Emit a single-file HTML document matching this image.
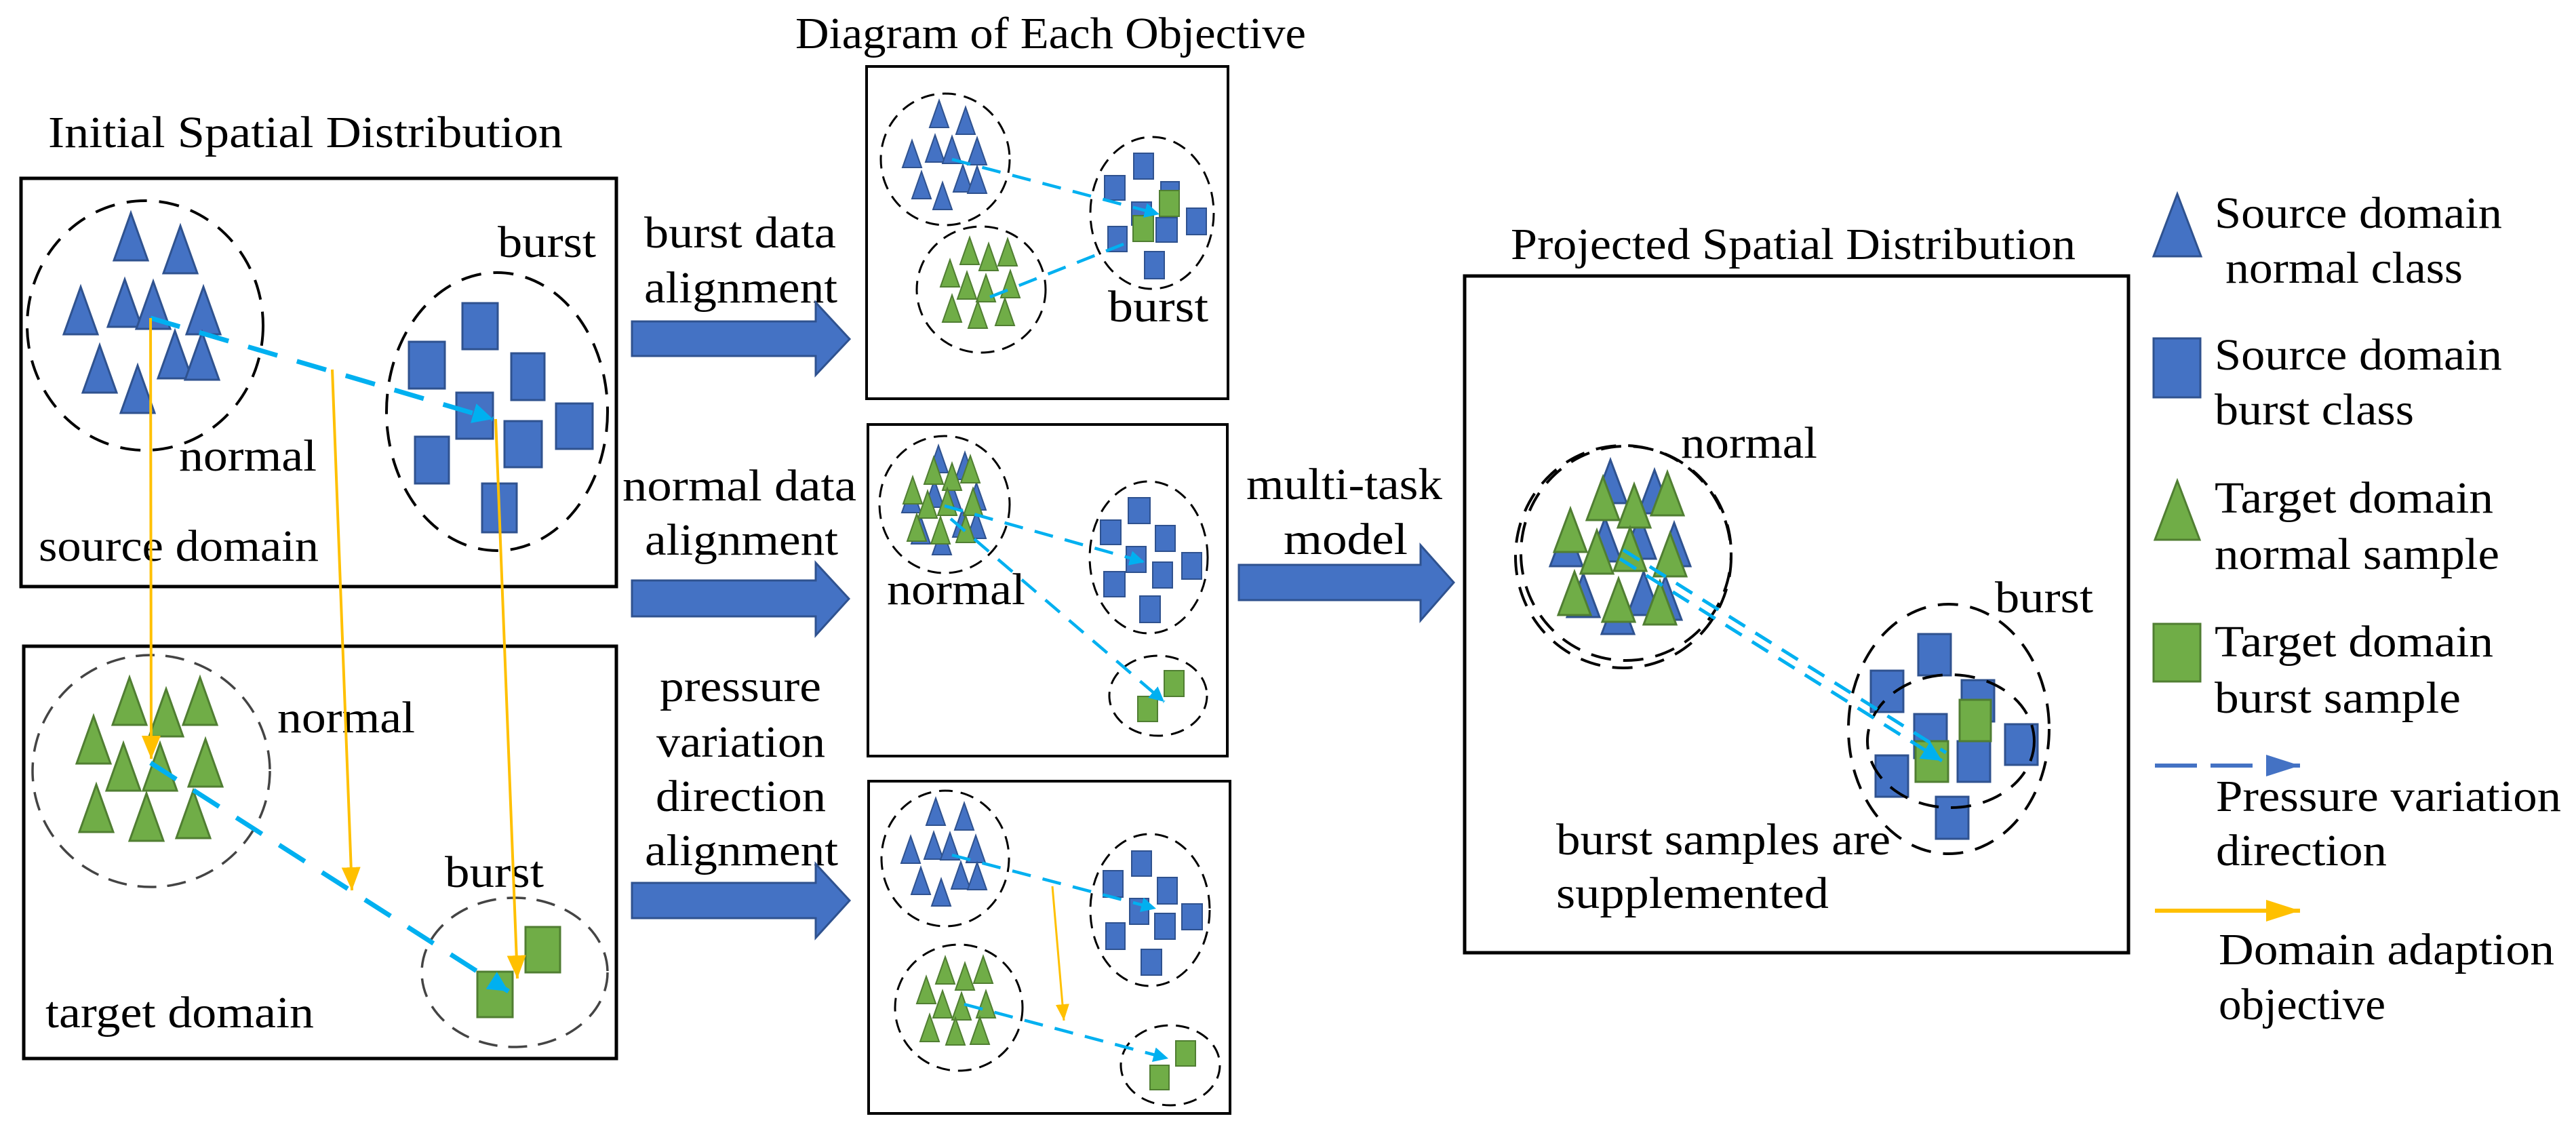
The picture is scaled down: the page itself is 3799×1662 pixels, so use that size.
<!DOCTYPE html>
<html><head><meta charset="utf-8"><style>
html,body{margin:0;padding:0;background:#fff;}
svg{display:block;font-family:"Liberation Serif","DejaVu Serif","Times New Roman",serif;}
svg text{font-family:"Liberation Serif","DejaVu Serif","Times New Roman",serif;font-size:66px;fill:#000;}
.b{fill:#4472C4;stroke:#2F528F;stroke-width:3;}
.g{fill:#70AD47;stroke:#507E32;stroke-width:3;}
.box{fill:none;stroke:#000;stroke-width:5;}
.el{fill:none;stroke:#000;stroke-width:4;stroke-dasharray:30 18;}
.elg{fill:none;stroke:#444;stroke-width:3.5;stroke-dasharray:28 16;}
.bl{stroke:#00B0F0;stroke-width:7;stroke-dasharray:45 30;fill:none;}
.bls{stroke:#00B0F0;stroke-width:4.5;stroke-dasharray:28 18;fill:none;}
.or{stroke:#FFC000;stroke-width:4;fill:none;}
.ba{fill:#4472C4;stroke:#2F528F;stroke-width:3;}
</style></head><body>
<svg width="3799" height="1662" viewBox="0 0 3799 1662" xmlns="http://www.w3.org/2000/svg" font-family="Liberation Serif, DejaVu Serif, serif">
<defs>
<path id="T1" d="M0,0 L25,70 L-25,70Z"/>
<path id="T2" d="M0,0 L14,40 L-14,40Z"/>
<path id="T3" d="M0,0 L24,64 L-24,64Z"/>
<marker id="mb" markerUnits="userSpaceOnUse" markerWidth="40" markerHeight="40" refX="30" refY="15" orient="auto"><path d="M0,0 L30,15 L0,30 Z" fill="#00B0F0"/></marker>
<marker id="mbs" markerUnits="userSpaceOnUse" markerWidth="30" markerHeight="30" refX="22" refY="11" orient="auto"><path d="M0,0 L22,11 L0,22 Z" fill="#00B0F0"/></marker>
<marker id="mo" markerUnits="userSpaceOnUse" markerWidth="40" markerHeight="40" refX="34" refY="14" orient="auto"><path d="M0,0 L34,14 L0,28 Z" fill="#FFC000"/></marker>
<marker id="mos" markerUnits="userSpaceOnUse" markerWidth="30" markerHeight="30" refX="24" refY="10" orient="auto"><path d="M0,0 L24,10 L0,20 Z" fill="#FFC000"/></marker>
<marker id="mlb" markerUnits="userSpaceOnUse" markerWidth="60" markerHeight="40" refX="50" refY="16" orient="auto"><path d="M0,0 L50,16 L0,32 Z" fill="#4472C4"/></marker>
<marker id="mlo" markerUnits="userSpaceOnUse" markerWidth="60" markerHeight="40" refX="50" refY="16" orient="auto"><path d="M0,0 L50,16 L0,32 Z" fill="#FFC000"/></marker>
</defs>

<text x="71" y="217" textLength="759" lengthAdjust="spacingAndGlyphs">Initial Spatial Distribution</text>
<text x="1173" y="71" textLength="753" lengthAdjust="spacingAndGlyphs">Diagram of Each Objective</text>
<text x="2228" y="382" textLength="833" lengthAdjust="spacingAndGlyphs">Projected Spatial Distribution</text>

<rect class="box" x="31" y="263" width="878" height="602"/>
<ellipse class="el" cx="214" cy="480" rx="174" ry="184"/>
<g class="b">
<use href="#T1" x="193" y="314"/><use href="#T1" x="266" y="333"/><use href="#T1" x="119" y="423"/>
<use href="#T1" x="184" y="412"/><use href="#T1" x="226" y="415"/><use href="#T1" x="300" y="423"/>
<use href="#T1" x="147" y="509"/><use href="#T1" x="258" y="488"/><use href="#T1" x="298" y="490"/>
<use href="#T1" x="203" y="539"/>
</g>
<ellipse class="el" cx="733" cy="607" rx="163" ry="205"/>
<g class="b">
<rect x="682" y="447" width="52" height="68"/><rect x="603" y="504" width="53" height="69"/>
<rect x="754" y="521" width="49" height="69"/><rect x="673" y="579" width="54" height="68"/>
<rect x="820" y="595" width="54" height="67"/><rect x="744" y="621" width="55" height="68"/>
<rect x="612" y="644" width="50" height="69"/><rect x="711" y="713" width="51" height="72"/>
</g>
<text x="734" y="379" textLength="145" lengthAdjust="spacingAndGlyphs">burst</text>
<text x="264" y="694" textLength="203" lengthAdjust="spacingAndGlyphs">normal</text>
<text x="57" y="827" textLength="413" lengthAdjust="spacingAndGlyphs">source domain</text>
<line class="bl" x1="222" y1="469" x2="727" y2="618" marker-end="url(#mb)"/>

<rect class="box" x="35" y="953" width="874" height="608"/>
<ellipse class="elg" cx="223" cy="1137" rx="175" ry="171"/>
<g class="g">
<use href="#T1" x="191" y="999"/><use href="#T1" x="245" y="1016"/><use href="#T1" x="295" y="999"/>
<use href="#T1" x="138" y="1056"/><use href="#T1" x="182" y="1096"/><use href="#T1" x="236" y="1096"/>
<use href="#T1" x="303" y="1090"/><use href="#T1" x="142" y="1157"/><use href="#T1" x="216" y="1170"/>
<use href="#T1" x="285" y="1166"/>
</g>
<ellipse class="elg" cx="759" cy="1434" rx="137" ry="110"/>
<g class="g">
<rect x="775" y="1367" width="51" height="67"/><rect x="704" y="1433" width="52" height="67"/>
</g>
<text x="409" y="1080" textLength="203" lengthAdjust="spacingAndGlyphs">normal</text>
<text x="656" y="1308" textLength="146" lengthAdjust="spacingAndGlyphs">burst</text>
<text x="67" y="1515" textLength="396" lengthAdjust="spacingAndGlyphs">target domain</text>
<line class="bl" x1="222" y1="1125" x2="750" y2="1462" marker-end="url(#mb)"/>

<line class="or" x1="222" y1="469" x2="223" y2="1119" marker-end="url(#mo)"/>
<line class="or" x1="490" y1="545" x2="519" y2="1313" marker-end="url(#mo)"/>
<line class="or" x1="731" y1="618" x2="763" y2="1443" marker-end="url(#mo)"/>

<text x="950" y="365" textLength="283" lengthAdjust="spacingAndGlyphs">burst data</text>
<text x="950" y="446" textLength="285" lengthAdjust="spacingAndGlyphs">alignment</text>
<text x="918" y="738" textLength="345" lengthAdjust="spacingAndGlyphs">normal data</text>
<text x="951" y="818" textLength="285" lengthAdjust="spacingAndGlyphs">alignment</text>
<text x="973" y="1034" textLength="238" lengthAdjust="spacingAndGlyphs">pressure</text>
<text x="968" y="1116" textLength="249" lengthAdjust="spacingAndGlyphs">variation</text>
<text x="967" y="1196" textLength="251" lengthAdjust="spacingAndGlyphs">direction</text>
<text x="951" y="1276" textLength="285" lengthAdjust="spacingAndGlyphs">alignment</text>
<text x="1838" y="736" textLength="289" lengthAdjust="spacingAndGlyphs">multi-task</text>
<text x="1893" y="817" textLength="183" lengthAdjust="spacingAndGlyphs">model</text>

<polygon class="ba" points="932,474 1203,474 1203,446 1253,500 1203,553 1203,525 932,525"/>
<polygon class="ba" points="932,856 1203,856 1203,830 1252,883 1203,937 1203,909 932,909"/>
<polygon class="ba" points="932,1302 1203,1302 1203,1274 1253,1328 1203,1383 1203,1354 932,1354"/>
<polygon class="ba" points="1827,833 2095,833 2095,804 2144,859 2095,915 2095,885 1827,885"/>

<rect class="box" x="1278" y="98" width="533" height="490" style="stroke-width:4"/>
<ellipse class="el" cx="1394" cy="235" rx="95" ry="97" style="stroke-width:3;stroke-dasharray:20 12"/>
<ellipse class="el" cx="1447" cy="427" rx="95" ry="93" style="stroke-width:3;stroke-dasharray:20 12"/>
<ellipse class="el" cx="1699" cy="314" rx="91" ry="112" style="stroke-width:3;stroke-dasharray:20 12"/>
<g class="b" style="stroke-width:2">
<use href="#T2" x="1385" y="148"/><use href="#T2" x="1424" y="158"/><use href="#T2" x="1345" y="207"/>
<use href="#T2" x="1379" y="199"/><use href="#T2" x="1404" y="201"/><use href="#T2" x="1441" y="203"/>
<use href="#T2" x="1359" y="253"/><use href="#T2" x="1420" y="243"/><use href="#T2" x="1441" y="245"/>
<use href="#T2" x="1390" y="269"/>
</g>
<g class="g" style="stroke-width:2">
<use href="#T2" x="1430" y="350"/><use href="#T2" x="1458" y="359"/><use href="#T2" x="1486" y="352"/>
<use href="#T2" x="1401" y="383"/><use href="#T2" x="1426" y="401"/><use href="#T2" x="1454" y="405"/>
<use href="#T2" x="1490" y="399"/><use href="#T2" x="1404" y="435"/><use href="#T2" x="1442" y="444"/>
<use href="#T2" x="1482" y="440"/>
</g>
<g class="b" style="stroke-width:2">
<rect x="1672" y="226" width="29" height="38"/><rect x="1629" y="259" width="30" height="36"/>
<rect x="1712" y="268" width="27" height="36"/><rect x="1669" y="298" width="29" height="34"/>
<rect x="1750" y="307" width="29" height="39"/><rect x="1705" y="321" width="31" height="36"/>
<rect x="1634" y="334" width="28" height="37"/><rect x="1688" y="371" width="29" height="40"/>
</g>
<g class="g" style="stroke-width:2">
<rect x="1710" y="281" width="29" height="38"/><rect x="1671" y="318" width="30" height="38"/>
</g>
<line class="bls" x1="1404" y1="235" x2="1710" y2="316" marker-end="url(#mbs)"/>
<line class="bls" x1="1460" y1="438" x2="1672" y2="354"/>
<text x="1634" y="474" textLength="148" lengthAdjust="spacingAndGlyphs">burst</text>

<rect class="box" x="1280" y="626" width="530" height="489" style="stroke-width:4"/>
<ellipse class="el" cx="1393" cy="744" rx="96" ry="101" style="stroke-width:3;stroke-dasharray:20 12"/>
<ellipse class="el" cx="1694" cy="822" rx="87" ry="112" style="stroke-width:3;stroke-dasharray:20 12"/>
<ellipse class="el" cx="1708" cy="1026" rx="72" ry="59" style="stroke-width:3;stroke-dasharray:20 12"/>
<g class="b" style="stroke-width:2">
<use href="#T2" x="1384" y="657"/><use href="#T2" x="1423" y="667"/><use href="#T2" x="1344" y="716"/>
<use href="#T2" x="1378" y="708"/><use href="#T2" x="1403" y="710"/><use href="#T2" x="1440" y="712"/>
<use href="#T2" x="1358" y="762"/><use href="#T2" x="1419" y="752"/><use href="#T2" x="1440" y="754"/>
<use href="#T2" x="1389" y="778"/>
</g>
<g class="g" style="stroke-width:2">
<use href="#T2" x="1377" y="674"/><use href="#T2" x="1404" y="683"/><use href="#T2" x="1431" y="672"/>
<use href="#T2" x="1346" y="703"/><use href="#T2" x="1368" y="724"/><use href="#T2" x="1397" y="720"/>
<use href="#T2" x="1435" y="720"/><use href="#T2" x="1352" y="758"/><use href="#T2" x="1387" y="762"/>
<use href="#T2" x="1424" y="760"/>
</g>
<g class="b" style="stroke-width:2">
<rect x="1664" y="734" width="32" height="38"/><rect x="1623" y="767" width="30" height="36"/>
<rect x="1704" y="775" width="29" height="38"/><rect x="1661" y="806" width="29" height="38"/>
<rect x="1743" y="815" width="29" height="39"/><rect x="1700" y="829" width="29" height="38"/>
<rect x="1628" y="843" width="31" height="37"/><rect x="1681" y="879" width="30" height="39"/>
</g>
<g class="g" style="stroke-width:2">
<rect x="1717" y="989" width="29" height="38"/><rect x="1678" y="1027" width="29" height="37"/>
</g>
<line class="bls" x1="1393" y1="746" x2="1688" y2="829" marker-end="url(#mbs)"/>
<line class="bls" x1="1402" y1="765" x2="1717" y2="1035" marker-end="url(#mbs)"/>
<text x="1308" y="891" textLength="204" lengthAdjust="spacingAndGlyphs">normal</text>

<rect class="box" x="1281" y="1152" width="533" height="490" style="stroke-width:4"/>
<ellipse class="el" cx="1394" cy="1266" rx="94" ry="100" style="stroke-width:3;stroke-dasharray:20 12"/>
<ellipse class="el" cx="1414" cy="1486" rx="94" ry="93" style="stroke-width:3;stroke-dasharray:20 12"/>
<ellipse class="el" cx="1696" cy="1342" rx="88" ry="112" style="stroke-width:3;stroke-dasharray:20 12"/>
<ellipse class="el" cx="1726" cy="1571" rx="73" ry="59" style="stroke-width:3;stroke-dasharray:20 12"/>
<g class="b" style="stroke-width:2">
<use href="#T2" x="1380" y="1177"/><use href="#T2" x="1422" y="1184"/><use href="#T2" x="1343" y="1233"/>
<use href="#T2" x="1377" y="1227"/><use href="#T2" x="1401" y="1228"/><use href="#T2" x="1439" y="1232"/>
<use href="#T2" x="1358" y="1279"/><use href="#T2" x="1417" y="1271"/><use href="#T2" x="1441" y="1272"/>
<use href="#T2" x="1388" y="1296"/>
</g>
<g class="g" style="stroke-width:2">
<use href="#T2" x="1394" y="1411"/><use href="#T2" x="1423" y="1420"/><use href="#T2" x="1450" y="1410"/>
<use href="#T2" x="1366" y="1440"/><use href="#T2" x="1390" y="1461"/><use href="#T2" x="1418" y="1464"/>
<use href="#T2" x="1454" y="1461"/><use href="#T2" x="1371" y="1496"/><use href="#T2" x="1409" y="1501"/>
<use href="#T2" x="1445" y="1500"/>
</g>
<g class="b" style="stroke-width:2">
<rect x="1669" y="1255" width="29" height="37"/><rect x="1627" y="1284" width="29" height="39"/>
<rect x="1707" y="1294" width="29" height="39"/><rect x="1666" y="1325" width="28" height="38"/>
<rect x="1743" y="1333" width="30" height="38"/><rect x="1703" y="1347" width="30" height="38"/>
<rect x="1631" y="1361" width="28" height="39"/><rect x="1683" y="1400" width="30" height="38"/>
</g>
<g class="g" style="stroke-width:2">
<rect x="1734" y="1535" width="29" height="37"/><rect x="1696" y="1571" width="28" height="36"/>
</g>
<line class="bls" x1="1404" y1="1261" x2="1705" y2="1340" marker-end="url(#mbs)"/>
<line class="bls" x1="1422" y1="1481" x2="1723" y2="1561" marker-end="url(#mbs)"/>
<line class="or" style="stroke-width:3" x1="1552" y1="1307" x2="1569" y2="1505" marker-end="url(#mos)"/>

<rect class="box" x="2160" y="407" width="979" height="998"/>
<ellipse class="el" cx="2394" cy="821" rx="159" ry="164"/>
<ellipse class="el" cx="2398" cy="816" rx="155" ry="158" style="stroke-dashoffset:20"/>
<g class="b">
<use href="#T3" x="2375" y="678"/><use href="#T3" x="2440" y="693"/><use href="#T3" x="2367" y="764"/>
<use href="#T3" x="2310" y="771"/><use href="#T3" x="2469" y="771"/><use href="#T3" x="2424" y="843"/>
<use href="#T3" x="2456" y="850"/><use href="#T3" x="2335" y="846"/><use href="#T3" x="2386" y="871"/>
<use href="#T3" x="2418" y="760"/>
</g>
<g class="g">
<use href="#T3" x="2364" y="703"/><use href="#T3" x="2410" y="714"/><use href="#T3" x="2459" y="696"/>
<use href="#T3" x="2316" y="750"/><use href="#T3" x="2355" y="782"/><use href="#T3" x="2404" y="778"/>
<use href="#T3" x="2463" y="786"/><use href="#T3" x="2322" y="843"/><use href="#T3" x="2387" y="853"/>
<use href="#T3" x="2448" y="857"/>
</g>
<ellipse class="el" cx="2874" cy="1075" rx="148" ry="184"/>
<g class="b">
<rect x="2829" y="935" width="48" height="61"/><rect x="2759" y="989" width="48" height="61"/>
<rect x="2893" y="1003" width="48" height="61"/><rect x="2823" y="1053" width="48" height="65"/>
<rect x="2957" y="1068" width="48" height="60"/><rect x="2887" y="1093" width="48" height="60"/>
<rect x="2766" y="1114" width="48" height="61"/><rect x="2855" y="1175" width="48" height="62"/>
</g>
<g class="g">
<rect x="2890" y="1032" width="46" height="61"/><rect x="2825" y="1093" width="48" height="60"/>
</g>
<ellipse class="el" cx="2877" cy="1093" rx="123" ry="98"/>
<line class="bls" style="stroke-width:5" x1="2394" y1="811" x2="2870" y2="1110"/>
<line class="bls" style="stroke-width:5" x1="2389" y1="824" x2="2864" y2="1122" marker-end="url(#mb)"/>
<text x="2479" y="675" textLength="201" lengthAdjust="spacingAndGlyphs">normal</text>
<text x="2942" y="903" textLength="145" lengthAdjust="spacingAndGlyphs">burst</text>
<text x="2295" y="1260" textLength="493" lengthAdjust="spacingAndGlyphs">burst samples are</text>
<text x="2295" y="1339" textLength="402" lengthAdjust="spacingAndGlyphs">supplemented</text>

<polygon class="b" points="3211,286 3246,378 3176,378"/>
<text x="3266" y="336" textLength="424" lengthAdjust="spacingAndGlyphs">Source domain</text>
<text x="3282" y="417" textLength="350" lengthAdjust="spacingAndGlyphs">normal class</text>
<rect class="b" x="3176" y="499" width="69" height="87"/>
<text x="3266" y="545" textLength="424" lengthAdjust="spacingAndGlyphs">Source domain</text>
<text x="3266" y="626" textLength="294" lengthAdjust="spacingAndGlyphs">burst class</text>
<polygon class="g" points="3211,709 3244,796 3178,796"/>
<text x="3266" y="756" textLength="411" lengthAdjust="spacingAndGlyphs">Target domain</text>
<text x="3266" y="839" textLength="420" lengthAdjust="spacingAndGlyphs">normal sample</text>
<rect class="g" x="3176" y="920" width="69" height="85"/>
<text x="3266" y="968" textLength="411" lengthAdjust="spacingAndGlyphs">Target domain</text>
<text x="3266" y="1051" textLength="363" lengthAdjust="spacingAndGlyphs">burst sample</text>
<line x1="3178" y1="1129" x2="3392" y2="1129" stroke="#4472C4" stroke-width="6" stroke-dasharray="62 20" marker-end="url(#mlb)"/>
<text x="3268" y="1196" textLength="509" lengthAdjust="spacingAndGlyphs">Pressure variation</text>
<text x="3268" y="1276" textLength="252" lengthAdjust="spacingAndGlyphs">direction</text>
<line x1="3178" y1="1343" x2="3392" y2="1343" stroke="#FFC000" stroke-width="6" marker-end="url(#mlo)"/>
<text x="3272" y="1422" textLength="495" lengthAdjust="spacingAndGlyphs">Domain adaption</text>
<text x="3272" y="1503" textLength="246" lengthAdjust="spacingAndGlyphs">objective</text>
</svg>
</body></html>
